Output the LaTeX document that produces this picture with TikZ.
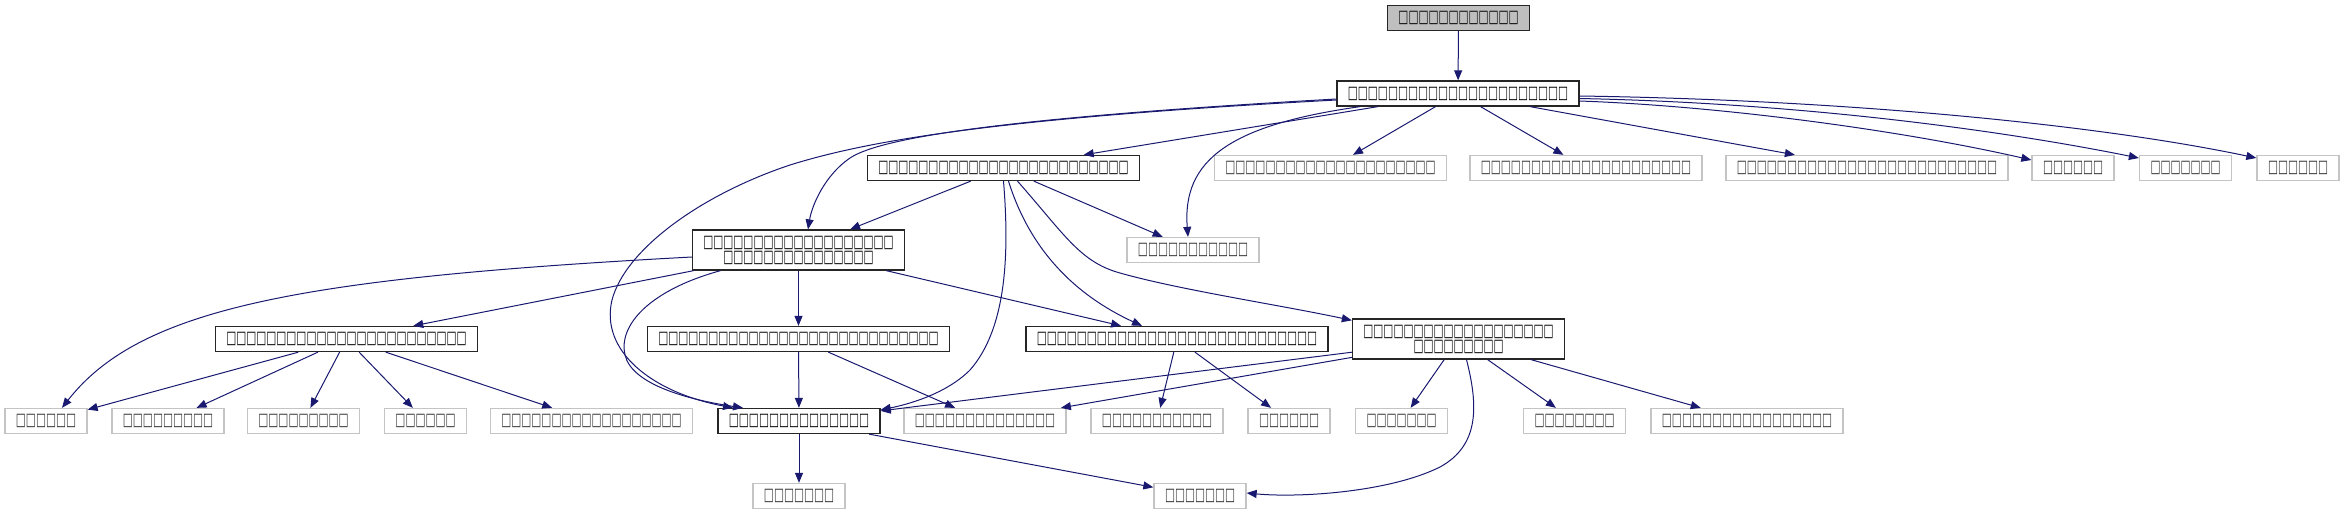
\documentclass[tikz,border=0pt]{standalone}
\usepackage{fontspec}
\usepackage{tikz}
\usetikzlibrary{arrows.meta}
\newfontfamily\tofufont[FakeStretch=0.605]{DejaVu Sans}
\definecolor{edgeblue}{HTML}{191970}
\definecolor{rootgray}{HTML}{BFBFBF}
\definecolor{extgray}{HTML}{C4C4C4}

\begin{document}
\begin{tikzpicture}[
  x=1pt, y=-1pt,
  font=\tofufont\fontsize{17.5}{15}\selectfont,
  cls/.style={draw=black!85, line width=1.3pt, fill=white, align=center,
              inner xsep=11pt, inner ysep=0pt, minimum height=25pt},
  ext/.style={draw=extgray, line width=1.3pt, fill=white, text=black!80,
              inner xsep=11pt, inner ysep=0pt, minimum height=25pt},
  arr/.style={-{Triangle[length=10pt,width=8pt]}, draw=edgeblue, line width=1pt}
]
\useasboundingbox (0,0) rectangle (2345,515);

% rank 0 - 2
\node[cls, fill=rootgray] (hdr) at (1458.5,18) {□□□□□□□□□□□□};
\node[cls] (incl) at (1458,93.5) {□□□□□□□□□□□□□□□□□□□□□□};
\node[cls] (mgr) at (1003.5,168) {□□□□□□□□□□□□□□□□□□□□□□□□□};
\node[ext] (x1) at (1330.5,168) {□□□□□□□□□□□□□□□□□□□□□};
\node[ext] (x2) at (1586,168) {□□□□□□□□□□□□□□□□□□□□□};
\node[ext] (x3) at (1867,168) {□□□□□□□□□□□□□□□□□□□□□□□□□□};
\node[ext] (x4) at (2073,168) {□□□□□□};
\node[ext] (x5) at (2185.5,168) {□□□□□□□};
\node[ext] (x6) at (2298,168) {□□□□□□};

% rank 3 - 4
\node[cls, minimum height=40pt] (ctl) at (798.5,250)
  {□□□□□□□□□□□□□□□□□□□\\□□□□□□□□□□□□□□□};
\node[ext] (aux) at (1193,250) {□□□□□□□□□□□};
\node[cls] (pnl) at (346.5,339) {□□□□□□□□□□□□□□□□□□□□□□□□};
\node[cls] (dlg) at (798.5,339) {□□□□□□□□□□□□□□□□□□□□□□□□□□□□};
\node[cls] (wdg) at (1177,339) {□□□□□□□□□□□□□□□□□□□□□□□□□□□□};
\node[cls, minimum height=40pt] (cfg) at (1458.5,339)
  {□□□□□□□□□□□□□□□□□□□\\□□□□□□□□□};

% rank 5 - 6
\node[ext] (l1) at (46,421) {□□□□□□};
\node[ext] (l2) at (168,421) {□□□□□□□□□};
\node[ext] (l3) at (303.5,421) {□□□□□□□□□};
\node[ext] (l4) at (425.5,421) {□□□□□□};
\node[ext] (l5) at (591.5,421) {□□□□□□□□□□□□□□□□□□};
\node[cls] (base) at (799,421) {□□□□□□□□□□□□□□};
\node[ext] (l6) at (985,421) {□□□□□□□□□□□□□□};
\node[ext] (l7) at (1157,421) {□□□□□□□□□□□};
\node[ext] (l8) at (1289,421) {□□□□□□};
\node[ext] (l9) at (1401.5,421) {□□□□□□□};
\node[ext] (l10) at (1574.5,421) {□□□□□□□□};
\node[ext] (l11) at (1747,421) {□□□□□□□□□□□□□□□□□};
\node[ext] (s1) at (799,496) {□□□□□□□};
\node[ext] (s2) at (1200,496) {□□□□□□□};

% straight edges
\foreach \a/\b in {hdr/incl, incl/mgr, incl/x1, incl/x2, incl/x3,
                   mgr/ctl, mgr/aux, ctl/pnl, ctl/dlg, ctl/wdg,
                   pnl/l1, pnl/l2, pnl/l3, pnl/l4, pnl/l5, dlg/base, dlg/l6,
                   wdg/l7, wdg/l8, cfg/l9, cfg/l10, cfg/l11, cfg/base, cfg/l6,
                   base/s1, base/s2}
  \draw[arr] (\a) -- (\b);

% curved edges
\draw[arr] ([yshift=-7.5pt]incl.east) .. controls (1720,106) and (1900,130) .. ([yshift=8pt]x4.west);
\draw[arr] ([yshift=-5pt]incl.east) .. controls (1800,103) and (2000,130) .. ([yshift=10pt]x5.west);
\draw[arr] ([yshift=-2.5pt]incl.east) .. controls (1850,100) and (2100,125) .. ([yshift=10pt]x6.west);
\draw[arr] ([yshift=-5.5pt]incl.west) .. controls (1000,118) and (880,138) .. (850,158)
  .. controls (825,175) and (812,205) .. ([xshift=9.5pt]ctl.north);
\draw[arr] ([yshift=-6.5pt]incl.west) .. controls (1000,118) and (870,140) .. (790,165)
  .. controls (700,195) and (625,250) .. (612,300)
  .. controls (600,350) and (650,392) .. ([xshift=-66pt]base.north);
\draw[arr] ([xshift=-98pt]incl.south) .. controls (1230,125) and (1182,160) .. ([xshift=-5pt]aux.north);
\draw[arr] (mgr.south) .. controls (1010,260) and (1005,330) .. (970,370)
  .. controls (945,395) and (905,405) .. ([yshift=-2pt]base.north east);
\draw[arr] ([xshift=5pt]mgr.south) .. controls (1030,250) and (1075,295) .. ([xshift=-35pt]wdg.north);
\draw[arr] ([xshift=14pt]mgr.south) .. controls (1065,235) and (1080,262) .. (1120,273)
  .. controls (1180,290) and (1280,305) .. ([yshift=-2pt]cfg.north west);
\draw[arr] ([yshift=-7pt]ctl.west) .. controls (300,278) and (140,308) .. ([xshift=16pt]l1.north);
\draw[arr] ([xshift=-78pt]ctl.south) .. controls (650,290) and (618,325) .. (625,355)
  .. controls (632,385) and (690,400) .. ([xshift=-56pt]base.north);
\draw[arr] ([xshift=8pt]cfg.south) .. controls (1478,405) and (1480,445) .. (1440,467)
  .. controls (1390,492) and (1300,498) .. ([yshift=3pt]s2.east);
\end{tikzpicture}
\end{document}
